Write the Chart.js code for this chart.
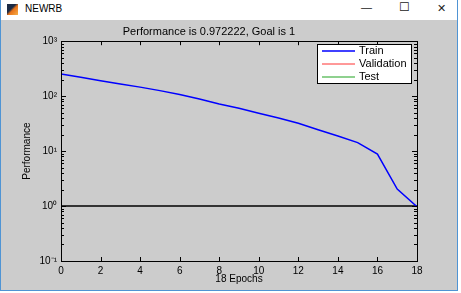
<!DOCTYPE html>
<html>
<head>
<meta charset="utf-8">
<script src="https://cdn.jsdelivr.net/npm/chart.js@4"></script>
<style>
  body { margin: 0; background: #fff; font-family: "Liberation Sans", Arial, sans-serif; }
  #win { position: absolute; left: 0; top: 0; width: 456px; height: 290px; background: #cccccc;
         border-left: 1px solid #4f94d4; border-right: 1px solid #4f94d4; border-bottom: 1px solid #4f94d4; }
  #bar { position: absolute; left: 0; top: 0; width: 456px; height: 20px; background: #fff; }
  #icon { position: absolute; left: 6px; top: 4px; width: 11px; height: 11px;
          background: linear-gradient(135deg, #1b2a44 0%, #1b2a44 40%, #e8731a 55%, #f6b04a 100%); }
  #name { position: absolute; left: 24px; top: 3px; font-size: 10px; color: #000; }
  .btn { position: absolute; top: 2px; font-size: 11px; color: #222; }
  #box { position: absolute; left: 0; top: 20px; width: 456px; height: 270px; }
</style>
</head>
<body>
<div id="win">
  <div id="bar">
    <div id="icon"></div>
    <div id="name">NEWRB</div>
    <div class="btn" style="left:360px;top:1px">&#8212;</div>
    <div class="btn" style="left:398px;font-size:12px;top:0px">&#9744;</div>
    <div class="btn" style="left:436px">&#10005;</div>
  </div>
  <div id="box"><canvas id="perf"></canvas></div>
</div>
<script>
const epochs = [0, 1, 2, 3, 4, 5, 6, 7, 8, 9, 10, 11, 12, 13, 14, 15, 16, 17, 18];
const trainPerf = [254, 221, 191, 166, 146, 126, 107, 89, 72, 60, 49, 40, 32, 24.5, 18.8, 14.3, 8.8, 2.04, 0.972222];
const goal = 1;
const xTicks = [0, 2, 4, 6, 8, 10, 12, 14, 16, 18];
const yTicks = [0.1, 1, 10, 100, 1000];
const yTickLabels = ['10\u207B\u00B9', '10\u2070', '10\u00B9', '10\u00B2', '10\u00B3'];
const legendNames = ['Train', 'Validation', 'Test'];

const tickFont = { family: '"Liberation Sans", Arial, sans-serif', size: 10 };

// MATLAB style box with inward ticks + legend inside the axes
const boxPlugin = {
    id: 'boxPlugin',
    afterDraw(chart) {
        const ctx = chart.ctx;
        const a = chart.chartArea;
        const xs = chart.scales.x, ys = chart.scales.y;
        ctx.save();
        ctx.strokeStyle = '#000';
        ctx.lineWidth = 1;
        ctx.beginPath();
        xTicks.forEach(v => {
            const px = Math.round(xs.getPixelForValue(v)) + 0.5;
            ctx.moveTo(px, a.bottom); ctx.lineTo(px, a.bottom - 4);
            ctx.moveTo(px, a.top); ctx.lineTo(px, a.top + 4);
        });
        yTicks.forEach((d, i) => {
            const py = Math.round(ys.getPixelForValue(d)) + 0.5;
            ctx.moveTo(a.left, py); ctx.lineTo(a.left + 5, py);
            ctx.moveTo(a.right, py); ctx.lineTo(a.right - 5, py);
            if (i < yTicks.length - 1) {
                for (let m = 2; m <= 9; m++) {
                    const q = Math.round(ys.getPixelForValue(m * d)) + 0.5;
                    ctx.moveTo(a.left, q); ctx.lineTo(a.left + 3, q);
                    ctx.moveTo(a.right, q); ctx.lineTo(a.right - 3, q);
                }
            }
        });
        ctx.stroke();
        ctx.strokeRect(Math.round(a.left) + 0.5, Math.round(a.top) + 0.5,
                       Math.round(a.right - a.left), Math.round(a.bottom - a.top));

        // legend
        const lw = 94, lh = 39;
        const lx = Math.round(a.right) - 6 - lw, ly = Math.round(a.top) + 3;
        ctx.fillStyle = '#fff';
        ctx.fillRect(lx, ly, lw, lh);
        ctx.strokeRect(lx + 0.5, ly + 0.5, lw, lh);
        ctx.font = '11px "Liberation Sans", Arial, sans-serif';
        ctx.textBaseline = 'middle';
        legendNames.forEach((name, i) => {
            const ds = chart.data.datasets.find(d => d.label === name);
            const y = ly + 7 + i * 13;
            ctx.strokeStyle = ds.borderColor;
            ctx.lineWidth = ds.borderWidth;
            ctx.beginPath();
            ctx.moveTo(lx + 5, y); ctx.lineTo(lx + 38, y);
            ctx.stroke();
            ctx.fillStyle = '#000';
            ctx.fillText(name, lx + 42, y);
        });
        ctx.restore();
    }
};

new Chart(document.getElementById('perf'), {
    type: 'line',
    data: {
        datasets: [
            {
                label: 'Train',
                data: epochs.map((e, i) => ({ x: e, y: trainPerf[i] })),
                borderColor: '#0000ff',
                borderWidth: 1.5,
                pointRadius: 0,
                tension: 0
            },
            { label: 'Validation', data: [], borderColor: '#ff3333', borderWidth: 1, pointRadius: 0 },
            { label: 'Test', data: [], borderColor: '#8fd18f', borderWidth: 2, pointRadius: 0 },
            {
                label: 'Goal',
                data: [{ x: epochs[0], y: goal }, { x: epochs[epochs.length - 1], y: goal }],
                borderColor: '#000',
                borderWidth: 1.5,
                pointRadius: 0
            }
        ]
    },
    options: {
        responsive: true,
        maintainAspectRatio: false,
        animation: false,
        layout: { padding: { left: 0, right: 40, top: 0, bottom: 0 } },
        scales: {
            x: {
                type: 'linear',
                min: 0,
                max: 18,
                afterBuildTicks: s => { s.ticks = xTicks.map(v => ({ value: v })); },
                afterFit: s => { s.height = 29; },
                ticks: { color: '#000', font: tickFont, padding: 4, maxRotation: 0 },
                grid: { display: false, drawTicks: false },
                border: { display: false },
                title: { display: true, text: '18 Epochs', color: '#000', font: tickFont, padding: { top: 0, bottom: 5 } }
            },
            y: {
                type: 'logarithmic',
                min: 0.1,
                max: 1000,
                afterBuildTicks: s => { s.ticks = yTicks.map(v => ({ value: v })); },
                afterFit: s => { s.width = 60; },
                ticks: {
                    color: '#000',
                    font: tickFont,
                    padding: 4,
                    callback: v => yTickLabels[yTicks.indexOf(v)]
                },
                grid: { display: false, drawTicks: false },
                border: { display: false },
                title: { display: true, text: 'Performance', color: '#000', font: tickFont, padding: { top: 20, bottom: 0 } }
            }
        },
        plugins: {
            legend: { display: false },
            tooltip: { enabled: false },
            title: {
                display: true,
                text: 'Performance is 0.972222, Goal is 1',
                color: '#000',
                font: { family: '"Liberation Sans", Arial, sans-serif', size: 11, weight: 'normal' },
                padding: { top: 5, bottom: 3 }
            }
        }
    },
    plugins: [boxPlugin]
});
</script>
</body>
</html>
